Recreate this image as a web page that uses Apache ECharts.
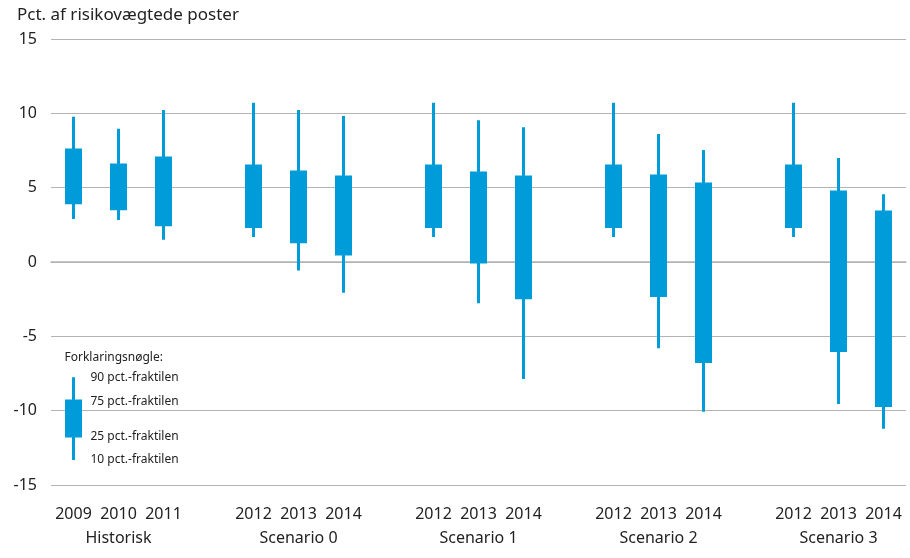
<!DOCTYPE html>
<html>
<head>
<meta charset="utf-8">
<script src="https://cdn.jsdelivr.net/npm/echarts@6/dist/echarts.min.js"></script>
<style>
  html, body { margin: 0; padding: 0; background: #fff; }
  #chart { width: 910px; height: 558px; }
</style>
</head>
<body>
<div id="chart"></div>
<script>
// grupper og aar
var groupNames = ['Historisk', 'Scenario 0', 'Scenario 1', 'Scenario 2', 'Scenario 3'];
var groupYears = [
  ['2009', '2010', '2011'],
  ['2012', '2013', '2014'],
  ['2012', '2013', '2014'],
  ['2012', '2013', '2014'],
  ['2012', '2013', '2014']
];

// fraktiler, en vaerdi pr. aar i raekkefoelge
var p90 = [9.77, 8.97, 10.22, 10.71, 10.22, 9.82, 10.71, 9.53, 9.06, 10.71, 8.61, 7.53, 10.71, 6.99, 4.55];
var p75 = [7.53, 6.52, 6.99, 6.46, 6.05, 5.72, 6.46, 5.98, 5.72, 6.46, 5.78, 5.25, 6.46, 4.71, 3.36];
var p25 = [3.99, 3.59, 2.51, 2.38, 1.37, 0.54, 2.38, 0.0, -2.40, 2.38, -2.26, -6.70, 2.38, -5.96, -9.66];
var p10 = [2.89, 2.82, 1.50, 1.68, -0.58, -2.06, 1.68, -2.78, -7.87, 1.68, -5.80, -10.07, 1.68, -9.55, -11.21];

// forklaringsnoegle (tegnes i 2009-kolonnen)
var keyValues = [-13.31, -11.70, -9.35, -7.75]; // 10, 25, 75, 90
var keyLabels = ['10 pct.-fraktilen', '25 pct.-fraktilen', '75 pct.-fraktilen', '90 pct.-fraktilen'];

var yTicks = [-15, -10, -5, 0, 5, 10, 15];

var blue = '#009bd9';
var grey = '#b3b3b3';
var font = 'Noto Sans';

// byg kategorier med tomme pladser mellem grupperne
var cats = [], labelMap = {}, boxData = [], k = 0;
groupNames.forEach(function (g, gi) {
  if (gi > 0) {
    cats.push('gap' + gi);
    labelMap['gap' + gi] = '';
    boxData.push('-');
  }
  groupYears[gi].forEach(function (y, yi) {
    var id = g + '-' + y;
    cats.push(id);
    labelMap[id] = yi === 1 ? '{y|' + y + '}\n{g|' + g + '}' : '{y|' + y + '}';
    boxData.push([p25[k], p75[k], p10[k], p90[k]]);
    k++;
  });
});

var keyData = cats.map(function (c, i) {
  return i === 0 ? [keyValues[1], keyValues[2], keyValues[0], keyValues[3]] : '-';
});

var chart = echarts.init(document.getElementById('chart'));

var boxStyle = { color: blue, color0: blue, borderColor: blue, borderColor0: blue, borderWidth: 3 };

var option = {
  animation: false,
  textStyle: { fontFamily: font },
  grid: { left: 51, right: 4, top: 39, bottom: 73 },
  title: {
    text: 'Pct. af risikovægtede poster',
    left: 12, top: 2,
    textStyle: { fontFamily: font, fontSize: 17, fontWeight: 'normal', color: '#222' }
  },
  xAxis: {
    type: 'category',
    data: cats,
    boundaryGap: true,
    axisLine: { lineStyle: { color: grey, width: 1.5 } },
    axisTick: { inside: true, length: 4, interval: 0, lineStyle: { color: grey, width: 1.2 } },
    axisLabel: {
      interval: 0,
      margin: 17,
      formatter: function (v) { return labelMap[v]; },
      rich: {
        y: { fontFamily: font, fontSize: 16, color: '#222', lineHeight: 24 },
        g: { fontFamily: font, fontSize: 16, color: '#222', lineHeight: 24 }
      }
    }
  },
  yAxis: {
    type: 'value',
    min: yTicks[0],
    max: yTicks[yTicks.length - 1],
    interval: 5,
    axisLine: { show: false },
    axisTick: { show: false },
    axisLabel: { margin: 14, fontFamily: font, fontSize: 16, color: '#222' },
    splitLine: { lineStyle: { color: grey, width: 1.2 } }
  },
  series: [
    { type: 'candlestick', data: boxData, barWidth: 15, itemStyle: boxStyle },
    { type: 'candlestick', data: keyData, barWidth: 15, itemStyle: boxStyle }
  ]
};

chart.setOption(option);

// tekster til forklaringsnoeglen placeres ud fra aksen
var gfx = [];
var keyTop = chart.convertToPixel({ gridIndex: 0 }, [cats[0], keyValues[3]]);
gfx.push({
  type: 'text', x: keyTop[0] - 9, y: keyTop[1] - 20,
  style: { text: 'Forklaringsnøgle:', fontFamily: font, fontSize: 12, fill: '#222', verticalAlign: 'middle' }
});
keyValues.forEach(function (v, i) {
  var p = chart.convertToPixel({ gridIndex: 0 }, [cats[0], v]);
  gfx.push({
    type: 'text', x: p[0] + 17, y: p[1] + (i === 1 || i === 2 ? 1 : 0),
    style: { text: keyLabels[i], fontFamily: font, fontSize: 12, fill: '#222', verticalAlign: 'middle' }
  });
});
chart.setOption({ graphic: gfx });
</script>
</body>
</html>
